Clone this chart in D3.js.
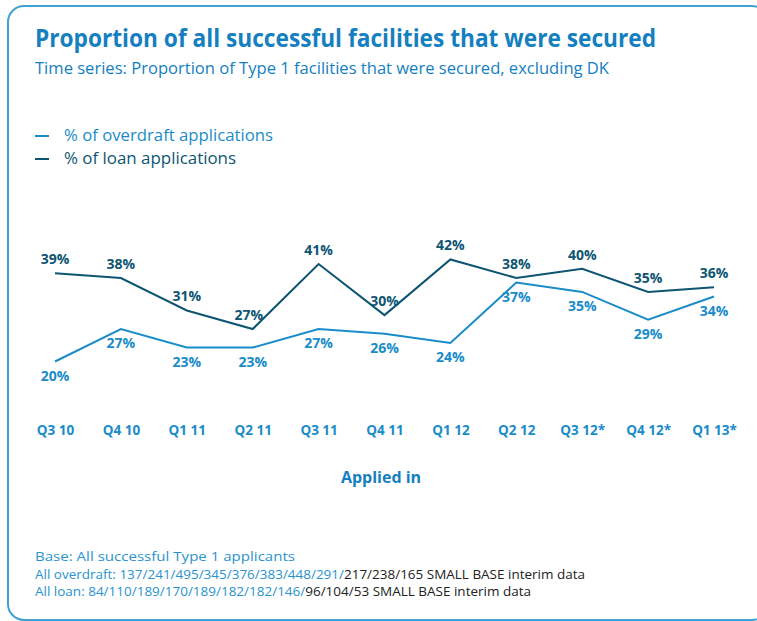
<!DOCTYPE html>
<html><head><meta charset="utf-8">
<script src="https://cdn.jsdelivr.net/npm/d3@7"></script>
<style>html,body{margin:0;padding:0;background:#fff;}svg{display:block;}</style>
</head><body>
<script>
const categories = ["Q3 10","Q4 10","Q1 11","Q2 11","Q3 11","Q4 11","Q1 12","Q2 12","Q3 12*","Q4 12*","Q1 13*"];
const overdraftValues = [20,27,23,23,27,26,24,37,35,29,34];
const loanValues = [39,38,31,27,41,30,42,38,40,35,36];
const seriesNames = ["% of overdraft applications","% of loan applications"];
const titleText = "Proportion of all successful facilities that were secured";
const subtitleText = "Time series: Proportion of Type 1 facilities that were secured, excluding DK";
const axisTitle = "Applied in";
const footBase = "Base: All successful Type 1 applicants";
const footOverdraftBlue = "All overdraft: 137/241/495/345/376/383/448/291/";
const footOverdraftBlack = "217/238/165 SMALL BASE interim data";
const footLoanBlue = "All loan: 84/110/189/170/189/182/182/146/";
const footLoanBlack = "96/104/53 SMALL BASE interim data";

const W = 757, H = 621;
const cLight = "#1a8cc8", cDark = "#0e5573", cTitle = "#1580bf", cBorder = "#3ea3d4";
const font = "'Open Sans', sans-serif";

const svg = d3.select("body").append("svg").attr("width", W).attr("height", H);

svg.append("rect").attr("x", 8).attr("y", 6).attr("width", 760).attr("height", 614)
  .attr("rx", 16).attr("fill", "none").attr("stroke", cBorder).attr("stroke-width", 2);

svg.append("text").attr("x", 35).attr("y", 47).text(titleText)
  .attr("font-family", font).attr("font-weight", 700).attr("font-size", 25)
  .attr("fill", cTitle).attr("textLength", 621).attr("lengthAdjust", "spacingAndGlyphs");
svg.append("text").attr("x", 35).attr("y", 74).text(subtitleText)
  .attr("font-family", font).attr("font-size", 16)
  .attr("fill", cTitle).attr("textLength", 574).attr("lengthAdjust", "spacingAndGlyphs");

// legend
const legColors = [cLight, cDark];
const legLens = [209, 172];
seriesNames.forEach((n, i) => {
  const y = 135 + i * 23;
  svg.append("line").attr("x1", 35).attr("x2", 49).attr("y1", y + 1).attr("y2", y + 1)
    .attr("stroke", legColors[i]).attr("stroke-width", 2);
  svg.append("text").attr("x", 64).attr("y", y + 6).text(n)
    .attr("font-family", font).attr("font-size", 16).attr("fill", legColors[i])
    .attr("textLength", legLens[i]).attr("lengthAdjust", "spacingAndGlyphs");
});

const x = d3.scalePoint().domain(categories).range([55, 714]);
const y = d3.scaleLinear().domain([0, 45]).range([454.3, 454.3 - 45 * 4.64]);

const line = d3.line().x((d, i) => x(categories[i])).y(d => y(d));

svg.append("path").datum(overdraftValues).attr("d", line)
  .attr("fill", "none").attr("stroke", cLight).attr("stroke-width", 2);
svg.append("path").datum(loanValues).attr("d", line)
  .attr("fill", "none").attr("stroke", cDark).attr("stroke-width", 2);

svg.append("g").selectAll("text").data(loanValues).join("text")
  .attr("x", (d, i) => x(categories[i]) + (i === 3 ? -4 : 0))
  .attr("y", d => y(d) - 9)
  .attr("text-anchor", "middle").attr("font-family", font).attr("font-weight", 700)
  .attr("font-size", 14).attr("fill", cDark).text(d => d + "%");

svg.append("g").selectAll("text").data(overdraftValues).join("text")
  .attr("x", (d, i) => x(categories[i]))
  .attr("y", d => y(d) + 19)
  .attr("text-anchor", "middle").attr("font-family", font).attr("font-weight", 700)
  .attr("font-size", 14).attr("fill", cLight).text(d => d + "%");

// x axis
const xAxis = d3.axisBottom(x).tickSize(0).tickPadding(0);
const gx = svg.append("g").attr("transform", "translate(0,425)").call(xAxis);
gx.select(".domain").remove();
gx.selectAll("text").attr("font-family", font).attr("font-weight", 700)
  .attr("font-size", 13.5).attr("fill", cLight);

svg.append("text").attr("x", 381).attr("y", 483).attr("text-anchor", "middle").text(axisTitle)
  .attr("font-family", font).attr("font-weight", 700).attr("font-size", 16).attr("fill", cTitle);

// footer
const fb = "#2b93cc";
svg.append("text").attr("x", 35).attr("y", 561).text(footBase)
  .attr("font-family", font).attr("font-size", 13).attr("fill", fb)
  .attr("textLength", 260).attr("lengthAdjust", "spacingAndGlyphs");
const t2 = svg.append("text").attr("x", 35).attr("y", 579)
  .attr("font-family", font).attr("font-size", 13)
  .attr("textLength", 550).attr("lengthAdjust", "spacingAndGlyphs");
t2.append("tspan").attr("fill", fb).text(footOverdraftBlue);
t2.append("tspan").attr("fill", "#222").text(footOverdraftBlack);
const t3 = svg.append("text").attr("x", 35).attr("y", 596)
  .attr("font-family", font).attr("font-size", 13)
  .attr("textLength", 496).attr("lengthAdjust", "spacingAndGlyphs");
t3.append("tspan").attr("fill", fb).text(footLoanBlue);
t3.append("tspan").attr("fill", "#222").text(footLoanBlack);
</script>
</body></html>
